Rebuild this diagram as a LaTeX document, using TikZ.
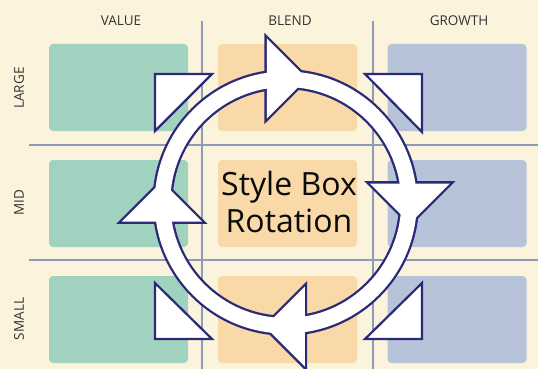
\documentclass[tikz,border=0pt]{standalone}
\usepackage{fontspec}
\setmainfont{Open Sans}
\definecolor{bgc}{HTML}{FCF3DC}
\definecolor{greenc}{HTML}{A1D1BF}
\definecolor{orangec}{HTML}{F8D9A7}
\definecolor{bluec}{HTML}{B6C3D8}
\definecolor{gridc}{HTML}{8C9BBA}
\definecolor{navy}{HTML}{2B2A78}
\definecolor{hdrc}{HTML}{333333}
\definecolor{titlec}{HTML}{0A0A0A}
\begin{document}
\begin{tikzpicture}[x=1pt,y=-1pt,
  cell/.style={rounded corners=4pt, minimum width=139pt, minimum height=87pt, inner sep=0pt, draw=none},
  hdr/.style={font=\fontsize{13.5}{16}\selectfont, text=hdrc, inner sep=0pt},
  gridline/.style={draw=gridc, line width=1.2pt},
  titletext/.style={font=\fontsize{32}{37}\selectfont, text=titlec, align=center, inner sep=0pt},
  ringedge/.style={draw=navy, line width=4.6pt, line join=miter},
  ringfill/.style={fill=white},
  corner/.style={draw=navy, fill=white, line width=2.2pt, line join=miter}]
\useasboundingbox (0,0) rectangle (538,369);
\fill[bgc] (0,0) rectangle (538,369);

% grid lines
\coordinate (v1t) at (202,21); \coordinate (v1b) at (202,369);
\coordinate (v2t) at (373,21); \coordinate (v2b) at (373,369);
\coordinate (h1l) at (29,145); \coordinate (h1r) at (538,145);
\coordinate (h2l) at (29,260); \coordinate (h2r) at (538,260);
\draw[gridline] (v1t) -- (v1b);
\draw[gridline] (v2t) -- (v2b);
\draw[gridline] (h1l) -- (h1r);
\draw[gridline] (h2l) -- (h2r);

% boxes
\node[cell, fill=greenc]  (vl) at (118.5,87.5) {};
\node[cell, fill=orangec] (bl) at (287.5,87.5) {};
\node[cell, fill=bluec]   (gl) at (457,87.5) {};
\node[cell, fill=greenc]  (vm) at (118.5,203.5) {};
\node[cell, fill=orangec] (bm) at (287.5,203.5) {};
\node[cell, fill=bluec]   (gm) at (457,203.5) {};
\node[cell, fill=greenc]  (vs) at (118.5,319.5) {};
\node[cell, fill=orangec] (bs) at (287.5,319.5) {};
\node[cell, fill=bluec]   (gs) at (457,319.5) {};

% headers
\node[hdr] (hv) at (121,21) {VALUE};
\node[hdr] (hb) at (290,21) {BLEND};
\node[hdr] (hg) at (459,21) {GROWTH};
\node[hdr, rotate=90] (rl) at (19,88) {LARGE};
\node[hdr, rotate=90] (rm) at (19,203) {MID};
\node[hdr, rotate=90] (rs) at (19,319) {SMALL};

% title
\node[titletext] (ttl) at (289,201.5) {Style Box\\Rotation};

% ring with arrowheads: outline first, then white fill
\def\cx{285.75}\def\cy{202.5}
\path[ringedge] (\cx,\cy) circle[radius=131pt] (\cx,\cy) circle[radius=115.5pt];
\path[ringedge] ({\cx-19},{\cy-164}) -- ({\cx-19},{\cy-84}) -- ({\cx+21},{\cy-124}) -- cycle;
\path[ringedge] ({\cx+84},{\cy-19}) -- ({\cx+164},{\cy-19}) -- ({\cx+124},{\cy+21}) -- cycle;
\path[ringedge] ({\cx+19},{\cy+84}) -- ({\cx+19},{\cy+164}) -- ({\cx-21},{\cy+124}) -- cycle;
\path[ringedge] ({\cx-164},{\cy+19}) -- ({\cx-84},{\cy+19}) -- ({\cx-124},{\cy-21}) -- cycle;
\path[ringfill, even odd rule] (\cx,\cy) circle[radius=131pt] (\cx,\cy) circle[radius=115.5pt];
\path[ringfill] ({\cx-19},{\cy-164}) -- ({\cx-19},{\cy-84}) -- ({\cx+21},{\cy-124}) -- cycle;
\path[ringfill] ({\cx+84},{\cy-19}) -- ({\cx+164},{\cy-19}) -- ({\cx+124},{\cy+21}) -- cycle;
\path[ringfill] ({\cx+19},{\cy+84}) -- ({\cx+19},{\cy+164}) -- ({\cx-21},{\cy+124}) -- cycle;
\path[ringfill] ({\cx-164},{\cy+19}) -- ({\cx-84},{\cy+19}) -- ({\cx-124},{\cy-21}) -- cycle;

% corner triangles
\draw[corner] (155,74) -- (212,74) -- (155,131) -- cycle;
\draw[corner] (422,74) -- (365,74) -- (422,132) -- cycle;
\draw[corner] (155,339) -- (155,283) -- (212,339) -- cycle;
\draw[corner] (422,339) -- (422,283) -- (365,339) -- cycle;
\end{tikzpicture}
\end{document}
